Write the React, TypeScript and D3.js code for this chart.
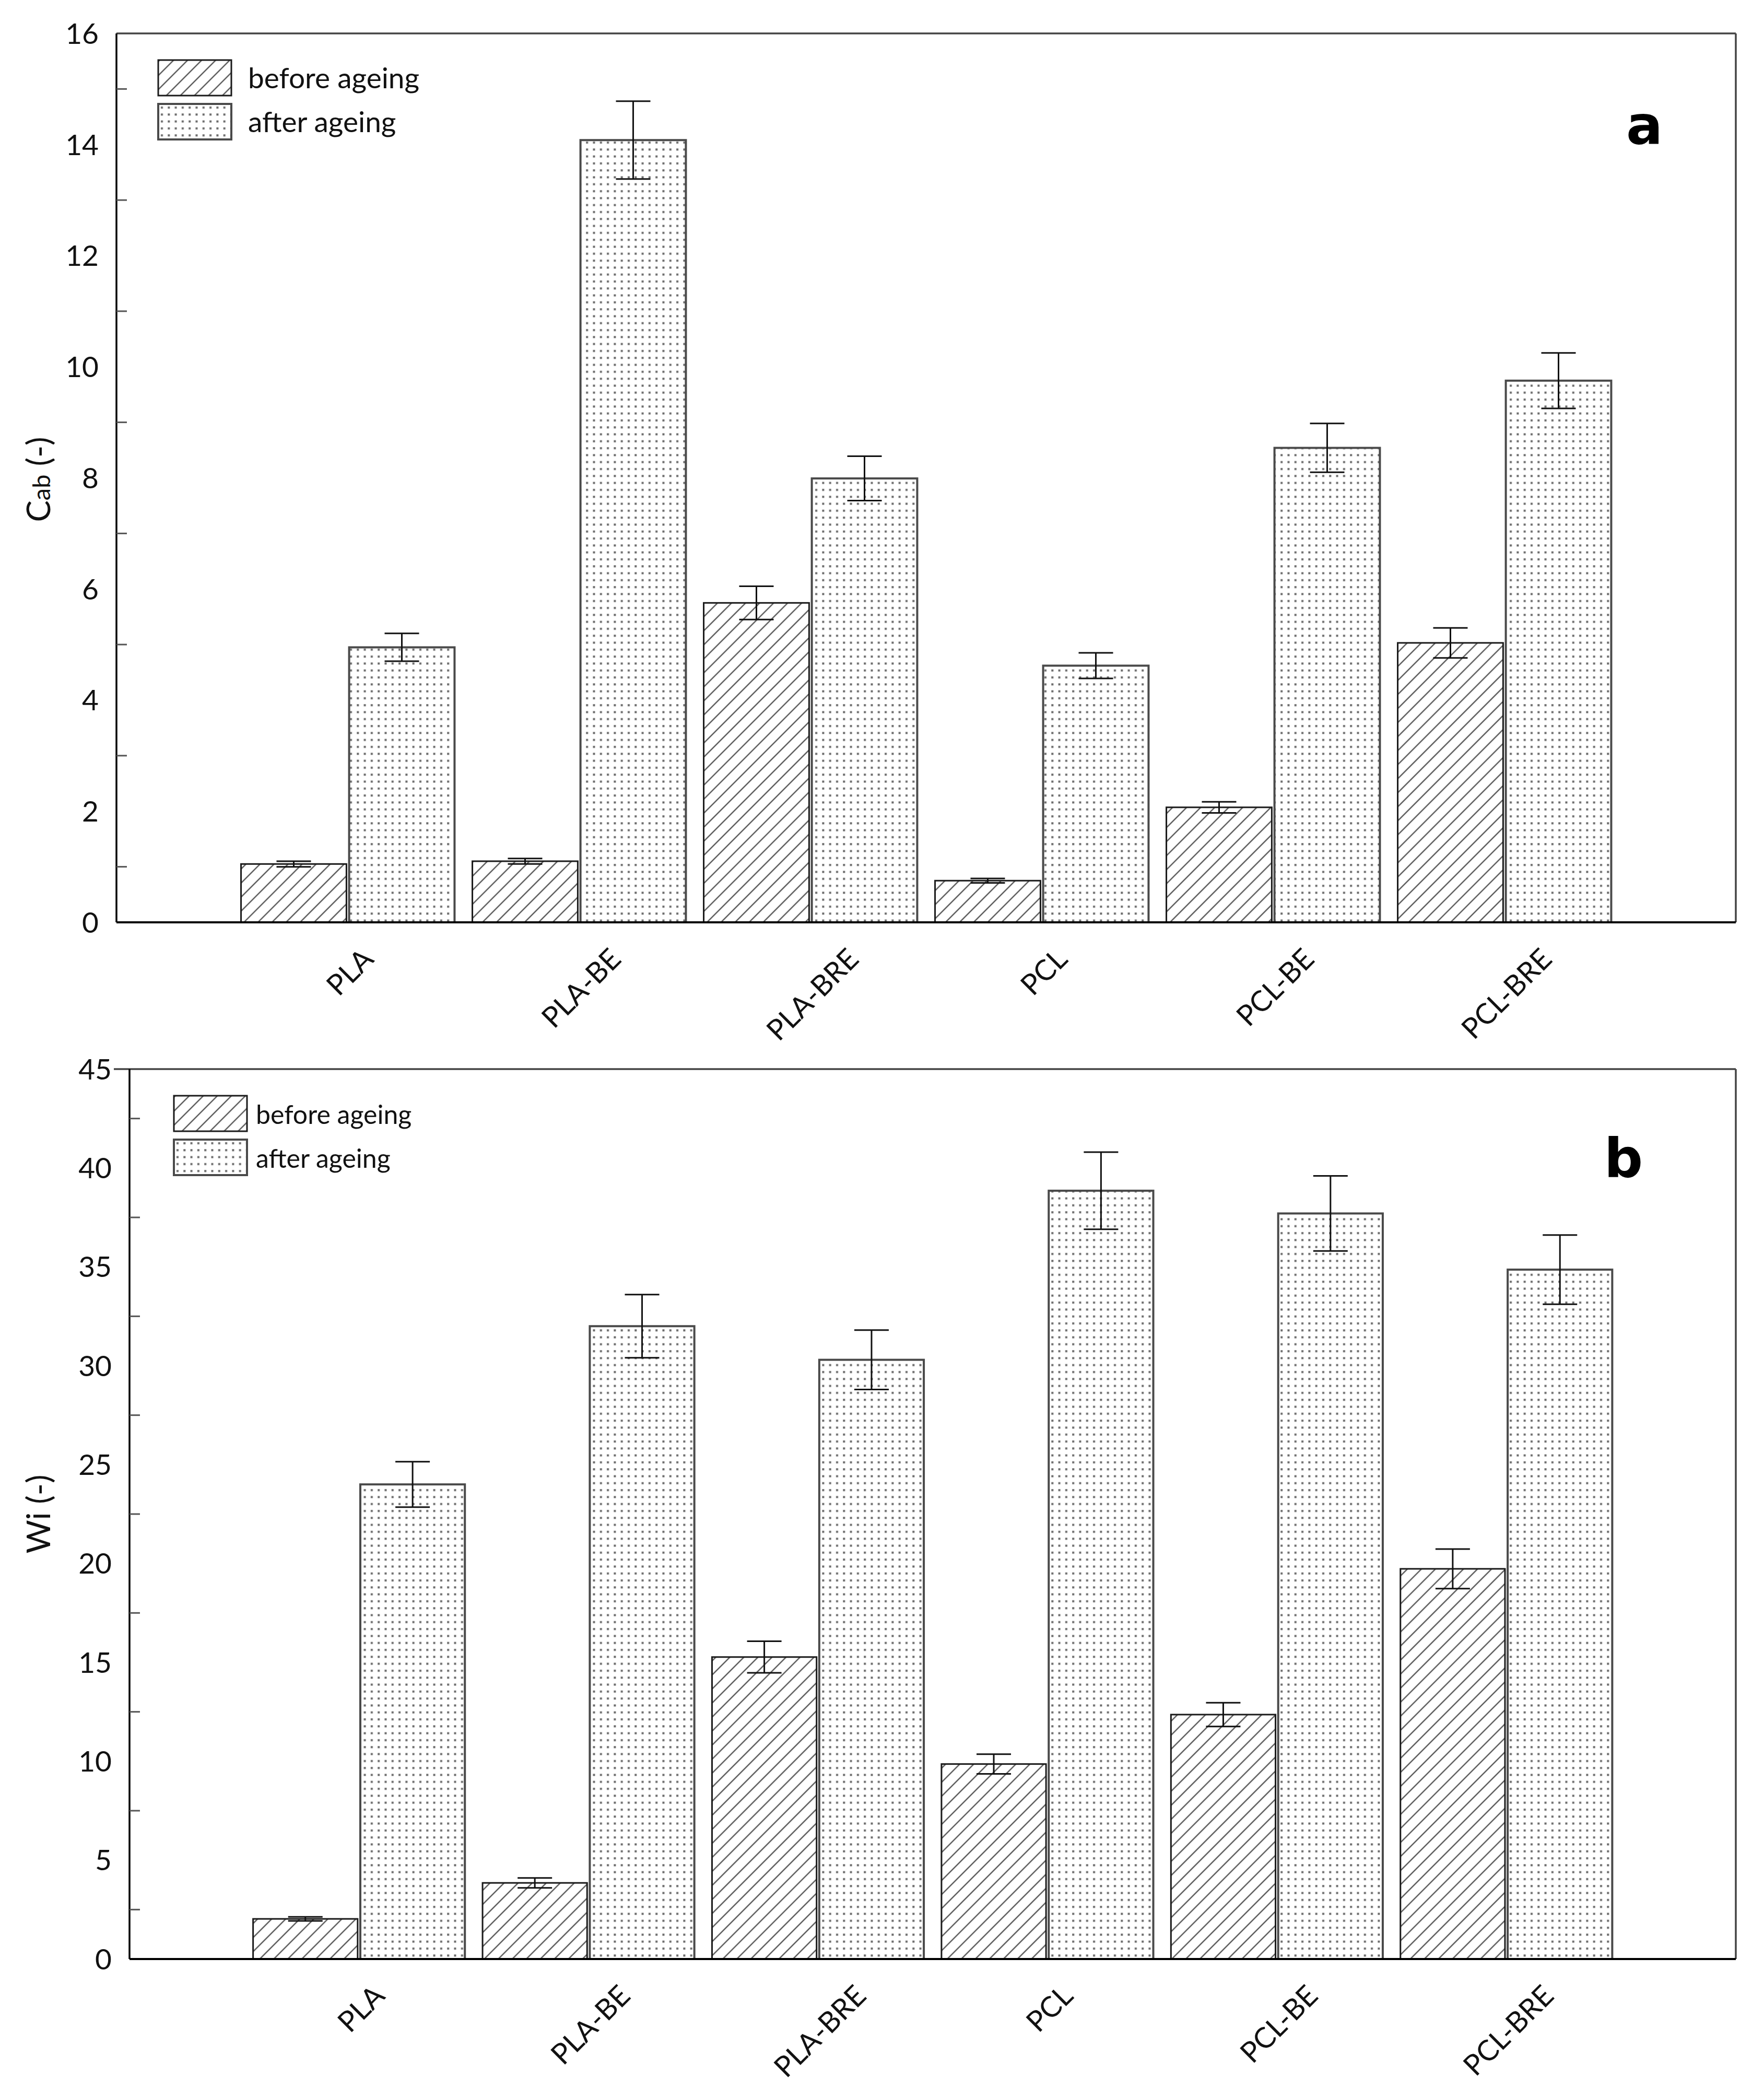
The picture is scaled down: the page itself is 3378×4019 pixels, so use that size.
import { useEffect, useRef } from 'react';
import * as d3 from 'd3';

// sample names along the x axis
const categories = ['PLA', 'PLA-BE', 'PLA-BRE', 'PCL', 'PCL-BE', 'PCL-BRE'];
const seriesNames = ['before ageing', 'after ageing'];

// panel a: Cab (-)
const cabBefore = [1.05, 1.1, 5.75, 0.75, 2.07, 5.03];
const cabBeforeErr = [0.05, 0.05, 0.3, 0.04, 0.1, 0.27];
const cabAfter = [4.95, 14.08, 7.99, 4.62, 8.54, 9.75];
const cabAfterErr = [0.25, 0.7, 0.4, 0.23, 0.44, 0.5];
const cabTickLabels = [0, 2, 4, 6, 8, 10, 12, 14, 16];
const cabMinorTicks = [1, 3, 5, 7, 9, 11, 13, 15];

// panel b: Wi (-)
const wiBefore = [2.03, 3.85, 15.27, 9.86, 12.36, 19.73];
const wiBeforeErr = [0.1, 0.25, 0.8, 0.5, 0.6, 1.0];
const wiAfter = [24.0, 32.0, 30.3, 38.85, 37.7, 34.86];
const wiAfterErr = [1.15, 1.6, 1.5, 1.95, 1.9, 1.75];
const wiTickLabels = [0, 5, 10, 15, 20, 25, 30, 35, 40, 45];
const wiMinorTicks = [2.5, 7.5, 12.5, 17.5, 22.5, 27.5, 32.5, 37.5, 42.5];

const W = 3378;
const H = 4019;
const FONT = 'Lato, "Open Sans", sans-serif';

interface Panel {
    left: number;
    right: number;
    top: number;
    bottom: number;
    max: number;
    before: number[];
    beforeErr: number[];
    after: number[];
    afterErr: number[];
    tickLabels: number[];
    minorTicks: number[];
    letter: string;
    letterPos: [number, number];
    legendPos: [number, number];
    legendFont: number;
    legendTextX: number;
    yLabel: [string, string, string];
    yLabelPos: [number, number];
    topOverhang: number;
}

const panels: Panel[] = [
    {
        left: 223,
        right: 3324,
        top: 64,
        bottom: 1766,
        max: 16,
        before: cabBefore,
        beforeErr: cabBeforeErr,
        after: cabAfter,
        afterErr: cabAfterErr,
        tickLabels: cabTickLabels,
        minorTicks: cabMinorTicks,
        letter: 'a',
        letterPos: [3149, 276],
        legendPos: [303, 115],
        legendFont: 55,
        legendTextX: 172,
        yLabel: ['C', 'ab', ' (-)'],
        yLabelPos: [96, 918],
        topOverhang: 0,
    },
    {
        left: 248,
        right: 3324,
        top: 2047,
        bottom: 3751,
        max: 45,
        before: wiBefore,
        beforeErr: wiBeforeErr,
        after: wiAfter,
        afterErr: wiAfterErr,
        tickLabels: wiTickLabels,
        minorTicks: wiMinorTicks,
        letter: 'b',
        letterPos: [3109, 2254],
        legendPos: [333, 2098],
        legendFont: 50,
        legendTextX: 157,
        yLabel: ['Wi', '', ' (-)'],
        yLabelPos: [96, 2899],
        topOverhang: 30,
    },
];

function drawPanel(svg: d3.Selection<SVGSVGElement, unknown, null, undefined>, p: Panel) {
    const step = (p.right - p.left) / 7;
    const x0 = d3
        .scaleBand()
        .domain(categories)
        .range([p.left + step / 2, p.right - step / 2])
        .paddingInner(0.077)
        .paddingOuter(0.0385);
    const x1 = d3
        .scaleBand()
        .domain(seriesNames)
        .range([0, x0.bandwidth()])
        .paddingInner(0.025);
    const y = d3.scaleLinear().domain([0, p.max]).range([p.bottom, p.top]);

    const g = svg.append('g');

    const rows = categories.map((c, i) => [
        { cat: c, s: seriesNames[0], v: p.before[i], e: p.beforeErr[i] },
        { cat: c, s: seriesNames[1], v: p.after[i], e: p.afterErr[i] },
    ]).flat();

    // bars
    g.selectAll('rect.bar')
        .data(rows)
        .join('rect')
        .attr('class', 'bar')
        .attr('x', d => (x0(d.cat) ?? 0) + (x1(d.s) ?? 0))
        .attr('y', d => y(d.v))
        .attr('width', x1.bandwidth())
        .attr('height', d => p.bottom - y(d.v))
        .attr('fill', d => (d.s === seriesNames[0] ? 'url(#hatch)' : 'url(#dots)'))
        .attr('stroke', d => (d.s === seriesNames[0] ? '#1a1a1a' : '#4a4a4a'))
        .attr('stroke-width', d => (d.s === seriesNames[0] ? 3 : 4));

    // error bars
    const cap = 33;
    const eb = g
        .selectAll('g.err')
        .data(rows)
        .join('g')
        .attr('class', 'err')
        .attr('transform', d => `translate(${(x0(d.cat) ?? 0) + (x1(d.s) ?? 0) + x1.bandwidth() / 2},0)`)
        .attr('stroke', '#111')
        .attr('stroke-width', 3);
    eb.append('line')
        .attr('x1', 0)
        .attr('x2', 0)
        .attr('y1', d => y(d.v + d.e))
        .attr('y2', d => y(d.v - d.e));
    eb.append('line')
        .attr('x1', -cap)
        .attr('x2', cap)
        .attr('y1', d => y(d.v + d.e))
        .attr('y2', d => y(d.v + d.e));
    eb.append('line')
        .attr('x1', -cap)
        .attr('x2', cap)
        .attr('y1', d => y(d.v - d.e))
        .attr('y2', d => y(d.v - d.e));

    // frame: top and right lighter, left and bottom black
    g.append('line')
        .attr('x1', p.left - p.topOverhang)
        .attr('x2', p.right)
        .attr('y1', p.top)
        .attr('y2', p.top)
        .attr('stroke', '#444')
        .attr('stroke-width', 3.5);
    g.append('line')
        .attr('x1', p.right)
        .attr('x2', p.right)
        .attr('y1', p.top)
        .attr('y2', p.bottom)
        .attr('stroke', '#444')
        .attr('stroke-width', 3.5);
    g.append('line')
        .attr('x1', p.left)
        .attr('x2', p.right)
        .attr('y1', p.bottom)
        .attr('y2', p.bottom)
        .attr('stroke', '#000')
        .attr('stroke-width', 4);

    // y axis with inward minor ticks, labels at major values only
    const yAxis = g.append('g').attr('transform', `translate(${p.left},0)`);
    yAxis.append('line')
        .attr('y1', p.top)
        .attr('y2', p.bottom)
        .attr('stroke', '#000')
        .attr('stroke-width', 3.5);
    yAxis.selectAll('line.tick')
        .data(p.minorTicks)
        .join('line')
        .attr('class', 'tick')
        .attr('x1', 0)
        .attr('x2', 20)
        .attr('y1', d => y(d))
        .attr('y2', d => y(d))
        .attr('stroke', '#555')
        .attr('stroke-width', 3);
    yAxis.selectAll('text')
        .data(p.tickLabels)
        .join('text')
        .attr('x', -34)
        .attr('y', d => y(d))
        .attr('dy', '0.36em')
        .attr('text-anchor', 'end')
        .attr('font-family', FONT)
        .attr('font-size', 55)
        .attr('fill', '#111')
        .text(d => d);

    // x labels, rotated -45, box centred under the group and top-aligned
    const labelTop = p.bottom + 46;
    const glyphH = 40;
    g.selectAll('text.xlab')
        .data(categories)
        .join('text')
        .attr('class', 'xlab')
        .attr('text-anchor', 'middle')
        .attr('dy', '0.35em')
        .attr('font-family', FONT)
        .attr('font-size', 55)
        .attr('fill', '#111')
        .text(d => d)
        .attr('transform', function (d) {
            const len = (this as SVGTextElement).getComputedTextLength();
            const cx = (x0(d) ?? 0) + x0.bandwidth() / 2 + 4;
            const cy = labelTop + (len + glyphH) / (2 * Math.SQRT2);
            return `translate(${cx},${cy}) rotate(-45)`;
        });

    // y label
    const yl = g
        .append('text')
        .attr('transform', `translate(${p.yLabelPos[0]},${p.yLabelPos[1]}) rotate(-90)`)
        .attr('text-anchor', 'middle')
        .attr('font-family', FONT)
        .attr('font-size', 62)
        .attr('fill', '#111');
    yl.append('tspan').text(p.yLabel[0]);
    if (p.yLabel[1]) yl.append('tspan').attr('font-size', 47).text(p.yLabel[1]);
    yl.append('tspan').text(p.yLabel[2]);

    // panel letter
    g.append('text')
        .attr('x', p.letterPos[0])
        .attr('y', p.letterPos[1])
        .attr('text-anchor', 'middle')
        .attr('font-family', '"DejaVu Sans", sans-serif')
        .attr('font-weight', 'bold')
        .attr('font-size', 104)
        .attr('fill', '#000')
        .text(p.letter);

    // legend
    const lg = g.append('g').attr('transform', `translate(${p.legendPos[0]},${p.legendPos[1]})`);
    const items = lg
        .selectAll('g')
        .data(seriesNames)
        .join('g')
        .attr('transform', (_, i) => `translate(0,${i * 84})`);
    items.append('rect')
        .attr('width', 140)
        .attr('height', 68)
        .attr('fill', (_, i) => (i === 0 ? 'url(#hatch)' : 'url(#dots)'))
        .attr('stroke', (_, i) => (i === 0 ? '#1a1a1a' : '#4a4a4a'))
        .attr('stroke-width', (_, i) => (i === 0 ? 3 : 4));
    items.append('text')
        .attr('x', p.legendTextX)
        .attr('y', 54)
        .attr('font-family', FONT)
        .attr('font-size', p.legendFont)
        .attr('fill', '#111')
        .text(d => d);
}

const App = () => {
    const svgRef = useRef<SVGSVGElement>(null);

    useEffect(() => {
        const svg = d3.select(svgRef.current as SVGSVGElement);
        svg.selectAll('*').remove();

        const defs = svg.append('defs');
        const hatch = defs
            .append('pattern')
            .attr('id', 'hatch')
            .attr('patternUnits', 'userSpaceOnUse')
            .attr('width', 19)
            .attr('height', 19)
            .attr('patternTransform', 'rotate(45)');
        hatch.append('line')
            .attr('x1', 2)
            .attr('x2', 2)
            .attr('y1', 0)
            .attr('y2', 19)
            .attr('stroke', '#555')
            .attr('stroke-width', 2.4);

        const dots = defs
            .append('pattern')
            .attr('id', 'dots')
            .attr('patternUnits', 'userSpaceOnUse')
            .attr('width', 13.3)
            .attr('height', 13.3);
        dots.append('rect').attr('width', 13.3).attr('height', 13.3).attr('fill', '#fff');
        dots.append('rect')
            .attr('x', 5)
            .attr('y', 5)
            .attr('width', 4)
            .attr('height', 4)
            .attr('fill', '#6a6a6a');

        panels.forEach(p => drawPanel(svg, p));
    }, []);

    return (
        <div style={{ position: 'absolute', left: 0, top: 0 }}>
            <svg ref={svgRef} width={W} height={H} style={{ display: 'block', background: '#fff' }}></svg>
        </div>
    );
};

export default App;
